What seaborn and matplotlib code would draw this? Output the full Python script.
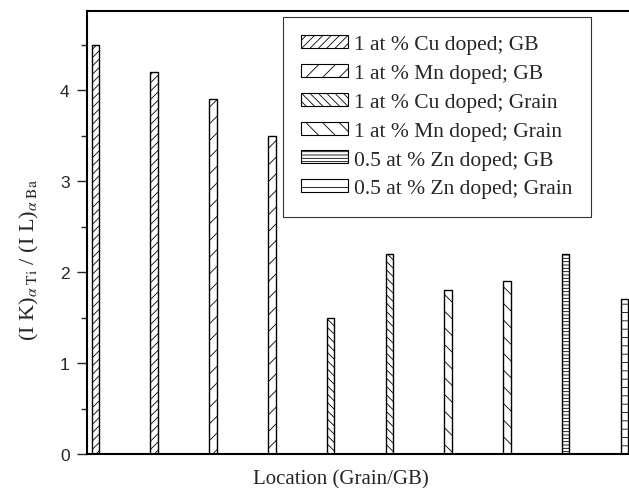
import matplotlib
matplotlib.use("Agg")
import matplotlib.pyplot as plt
import seaborn as sns
import pandas as pd
from matplotlib.patches import Patch

# data
locations = ["1", "2", "3", "4", "5", "6", "7", "8", "9", "10"]
ratios = [4.5, 4.2, 3.9, 3.5, 1.5, 2.2, 1.8, 1.9, 2.2, 1.7]
groups = ["1 at % Cu doped; GB", "1 at % Cu doped; GB",
          "1 at % Mn doped; GB", "1 at % Mn doped; GB",
          "1 at % Cu doped; Grain", "1 at % Cu doped; Grain",
          "1 at % Mn doped; Grain", "1 at % Mn doped; Grain",
          "0.5 at % Zn doped; GB", "0.5 at % Zn doped; Grain"]
legend_labels = ["1 at % Cu doped; GB", "1 at % Mn doped; GB",
                 "1 at % Cu doped; Grain", "1 at % Mn doped; Grain",
                 "0.5 at % Zn doped; GB", "0.5 at % Zn doped; Grain"]
hatch_map = {
    "1 at % Cu doped; GB": "////",
    "1 at % Mn doped; GB": "//",
    "1 at % Cu doped; Grain": "\\\\\\\\",
    "1 at % Mn doped; Grain": "\\\\",
    "0.5 at % Zn doped; GB": "-----",
    "0.5 at % Zn doped; Grain": "--",
}

df = pd.DataFrame({"loc": locations, "ratio": ratios, "group": groups})

sns.set_style("ticks")
plt.rcParams["font.family"] = ["Liberation Serif", "DejaVu Serif"]
plt.rcParams["mathtext.fontset"] = "stix"
plt.rcParams["hatch.linewidth"] = 0.6
plt.rcParams["hatch.color"] = "#333333"

W, H = 629, 489
AX_R = 645
fig = plt.figure(figsize=(W / 100, H / 100), dpi=100)
ax = fig.add_axes([87 / W, (H - 455) / H, (AX_R - 87) / W, (455 - 12) / H])

sns.barplot(data=df, x="loc", y="ratio", order=locations, color="white",
            width=0.13, edgecolor="black", linewidth=1.0, ax=ax, errorbar=None)

for patch, g in zip(ax.patches, groups):
    patch.set_hatch(hatch_map[g])
    patch.set_facecolor("white")

ax.set_xlim(-0.145, 9.35)
ax.set_ylim(0, 4.87)
ax.set_xticks([])
ax.set_yticks([0, 1, 2, 3, 4])
ax.set_yticks([0.5, 1.5, 2.5, 3.5, 4.5], minor=True)
ax.tick_params(axis="y", which="major", direction="out", length=7.5, width=1.0,
               labelsize=12.5, pad=5)
ax.tick_params(axis="y", which="minor", direction="out", length=4.5, width=1.0)
for lab in ax.get_yticklabels():
    lab.set_fontfamily(["Liberation Sans", "DejaVu Sans"])

for s in ["left", "bottom", "top"]:
    ax.spines[s].set_linewidth(1.5)
    ax.spines[s].set_color("black")
ax.spines["right"].set_visible(False)

ax.set_xlabel("Location (Grain/GB)", fontsize=15)
ax.xaxis.set_label_coords((341 - 87) / (AX_R - 87), -0.035, transform=ax.transAxes)
ax.xaxis.label.set_va("top")
ax.set_ylabel(r"(I K)$_{\alpha\ \mathrm{Ti}}$ / (I L)$_{\alpha\ \mathrm{Ba}}$",
              fontsize=16)
ax.yaxis.set_label_coords(-0.082, (455 - 260) / (455 - 12), transform=ax.transAxes)

handles = [Patch(facecolor="white", edgecolor="black", linewidth=0.8,
                 hatch=hatch_map[l], label=l) for l in legend_labels]
leg = ax.legend(handles=handles, loc="upper left",
                bbox_to_anchor=((283 - 87) / (AX_R - 87), (455 - 18) / (455 - 12)),
                prop={"family": ["Liberation Serif"], "size": 15.5},
                frameon=True, fancybox=False, edgecolor="black",
                handlelength=2.15, handleheight=0.55, labelspacing=0.45,
                borderpad=0.85, handletextpad=0.3, borderaxespad=0)
leg.get_frame().set_linewidth(0.8)

fig.savefig("out.png", dpi=100)
